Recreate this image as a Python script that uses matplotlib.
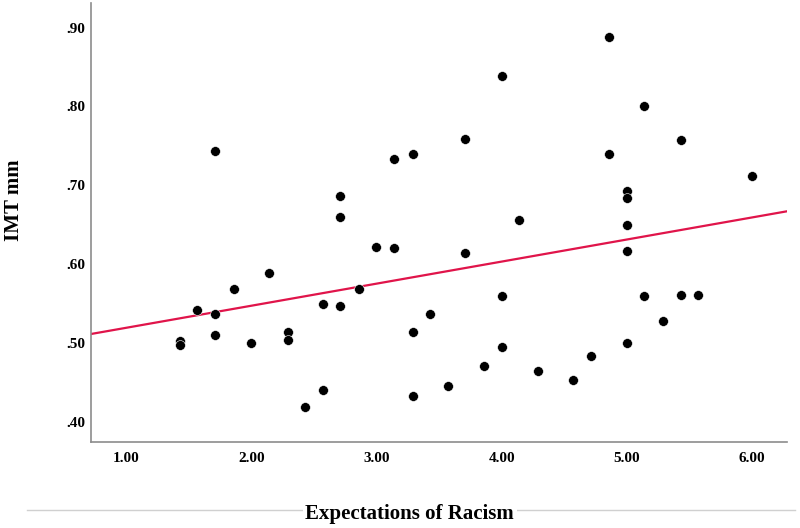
import matplotlib
matplotlib.use("Agg")
import matplotlib.pyplot as plt
import numpy as np

# Expectations of Racism (x) vs IMT mm (y)
racism = [1.43, 1.43, 1.57, 1.71, 1.71, 1.86, 2.00, 2.14, 2.29, 2.29,
          2.43, 2.57, 2.57, 2.71, 2.86, 1.71, 2.71, 2.71, 3.00, 3.14,
          3.14, 4.86, 4.00, 5.14, 3.71, 3.29, 4.86, 5.43, 6.00, 5.00,
          5.00, 4.14, 5.00, 3.71, 5.00, 4.00, 3.29, 3.43, 3.29, 3.57,
          3.86, 4.00, 4.29, 4.57, 4.71, 5.00, 5.14, 5.29, 5.43, 5.57]
imt = [0.502, 0.497, 0.541, 0.536, 0.510, 0.568, 0.500, 0.588, 0.513, 0.503,
       0.419, 0.549, 0.440, 0.546, 0.568, 0.743, 0.686, 0.659, 0.621, 0.620,
       0.733, 0.888, 0.839, 0.801, 0.758, 0.739, 0.739, 0.757, 0.712, 0.693,
       0.684, 0.656, 0.650, 0.614, 0.617, 0.559, 0.514, 0.536, 0.433, 0.445,
       0.470, 0.494, 0.464, 0.453, 0.483, 0.500, 0.559, 0.528, 0.561, 0.560]

x_ticks = [1, 2, 3, 4, 5, 6]
x_tick_labels = ["1.00", "2.00", "3.00", "4.00", "5.00", "6.00"]
y_ticks = [0.4, 0.5, 0.6, 0.7, 0.8, 0.9]
y_tick_labels = [".40", ".50", ".60", ".70", ".80", ".90"]

plt.rcParams["font.family"] = ["Liberation Serif", "DejaVu Serif"]

fig = plt.figure(figsize=(8, 5.28), dpi=100)
ax = fig.add_axes([0.1138, 0.1629, 0.8700, 0.8311])

xmin, xmax = 0.72, 6.28
ax.set_xlim(xmin, xmax)
ax.set_ylim(0.374, 0.931)

# linear fit line
slope, intercept = np.polyfit(racism, imt, 1)
fx = np.array([xmin, xmax])
ax.plot(fx, intercept + slope * fx, color="#E0144A", lw=1.6, zorder=2)

ax.scatter(racism, imt, s=50, color="black", edgecolors="white",
           linewidths=0.4, zorder=3)

for side in ["top", "right"]:
    ax.spines[side].set_visible(False)
for side in ["left", "bottom"]:
    ax.spines[side].set_color("#8c8c8c")
    ax.spines[side].set_linewidth(1.2)

ax.set_xticks(x_ticks)
ax.set_xticklabels(x_tick_labels)
ax.set_yticks(y_ticks)
ax.set_yticklabels(y_tick_labels)
ax.tick_params(axis="both", length=0, labelsize=11)
ax.tick_params(axis="x", pad=7)
ax.tick_params(axis="y", pad=4)
for lab in ax.get_xticklabels() + ax.get_yticklabels():
    lab.set_fontweight("bold")

fig.text(0.018, 0.62, "IMT mm", rotation=90, ha="center", va="center",
         fontsize=15, fontweight="bold")

# light separator under the chart
fig.add_artist(plt.Line2D([0.034, 0.994], [1 - 510 / 528] * 2,
                          color="#d0d0d0", lw=1.0))
fig.text(0.512, 1 - 514 / 528, "Expectations of Racism", ha="center",
         va="center", fontsize=15, fontweight="bold",
         bbox=dict(facecolor="white", edgecolor="none", pad=2))

fig.savefig("out.png", dpi=100, facecolor="white")
